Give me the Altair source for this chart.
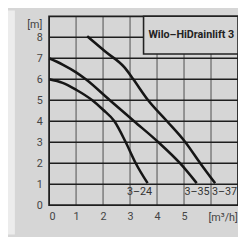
import altair as alt
import pandas as pd

# curve data (flow m3/h, head m)
q_324 = [0.0, 0.5, 1.0, 1.6, 2.0, 2.42, 2.84, 3.21, 3.65]
h_324 = [6.0, 5.83, 5.5, 5.0, 4.55, 4.0, 3.0, 2.0, 1.05]
q_335 = [0.0, 0.5, 1.0, 1.36, 2.25, 3.15, 4.05, 4.85, 5.47]
h_335 = [7.0, 6.7, 6.33, 6.0, 5.0, 4.0, 3.0, 2.0, 1.05]
q_337 = [1.41, 2.08, 2.81, 3.12, 3.67, 4.37, 5.05, 5.6, 6.15]
h_337 = [8.05, 7.32, 6.54, 6.0, 5.0, 4.0, 3.0, 2.0, 1.05]

labels = ["3–24", "3–35", "3–37"]
label_x = [3.35, 5.48, 6.5]
label_y = [0.64, 0.64, 0.64]

x_ticks = [0, 1, 2, 3, 4, 5]
y_ticks = [0, 1, 2, 3, 4, 5, 6, 7, 8]
grid_x = [1, 2, 3, 4, 5, 6]
grid_y = [1, 2, 3, 4, 5, 6, 7, 8]

title_text = "Wilo–HiDrainlift 3"
title_box = {"x": 3.5, "x2": 7.0, "y": 7.2, "y2": 9.0}
frame = {"x": 0.0, "x2": 7.0, "y": 0.0, "y2": 9.0}

FONT = "Roboto"
BG = "#d6d6d6"
LIGHT = "#ececec"

rows = []
for name, qs, hs in [("3–24", q_324, h_324), ("3–35", q_335, h_335), ("3–37", q_337, h_337)]:
    for i, (q, h) in enumerate(zip(qs, hs)):
        rows.append({"series": name, "q": q, "h": h, "i": i})
curves = pd.DataFrame(rows)

xs = alt.Scale(domain=[0, 7], nice=False, zero=False)
ys = alt.Scale(domain=[0, 9], nice=False, zero=False)

ax_x = alt.Axis(values=x_ticks, grid=False, ticks=False, domain=False,
                labelFont=FONT, labelFontSize=11, labelColor="#444",
                labelPadding=6, title=None, zindex=2)
ax_y = alt.Axis(values=y_ticks, grid=False, ticks=False, domain=False,
                labelFont=FONT, labelFontSize=11, labelColor="#444",
                labelPadding=7, title=None, zindex=2)

# lighter strip along the left edge of the page
strip = alt.Chart(pd.DataFrame({"a": [0]})).mark_rect(fill=LIGHT, clip=False).encode(
    x=alt.value(-43), x2=alt.value(-35), y=alt.value(-6), y2=alt.value(223)
)

vgrid = alt.Chart(pd.DataFrame({"g": grid_x})).mark_rule(
    color="#808080", strokeWidth=1.6
).encode(x=alt.X("g:Q", scale=xs, axis=ax_x))

hgrid = alt.Chart(pd.DataFrame({"g": grid_y})).mark_rule(
    color="#1e1e1e", strokeWidth=1.4
).encode(y=alt.Y("g:Q", scale=ys, axis=ax_y))

border = alt.Chart(pd.DataFrame([frame])).mark_rect(
    fill=None, stroke="#1e1e1e", strokeWidth=1.8, clip=False
).encode(x=alt.X("x:Q", scale=xs, axis=ax_x), x2="x2:Q",
         y=alt.Y("y:Q", scale=ys, axis=ax_y), y2="y2:Q")

box = alt.Chart(pd.DataFrame([title_box])).mark_rect(
    color=BG, fill=BG, opacity=1, stroke="#222", strokeWidth=1.6
).encode(x=alt.X("x:Q", scale=xs, axis=ax_x), x2="x2:Q",
         y=alt.Y("y:Q", scale=ys, axis=ax_y), y2="y2:Q")

title = alt.Chart(pd.DataFrame({"x": [5.27], "y": [8.1], "t": [title_text]})).mark_text(
    font=FONT, fontSize=11, fontWeight="bold", color="#222"
).encode(x=alt.X("x:Q", scale=xs, axis=ax_x), y=alt.Y("y:Q", scale=ys, axis=ax_y), text="t:N")

lines = alt.Chart(curves).mark_line(
    color="#161616", strokeWidth=2.6, interpolate="monotone"
).encode(
    x=alt.X("q:Q", scale=xs, axis=ax_x), y=alt.Y("h:Q", scale=ys, axis=ax_y),
    detail="series:N", order="i:Q"
)

lab = alt.Chart(pd.DataFrame({"x": label_x, "y": label_y, "t": labels})).mark_text(
    font=FONT, fontSize=11, color="#333"
).encode(x=alt.X("x:Q", scale=xs, axis=ax_x), y=alt.Y("y:Q", scale=ys, axis=ax_y), text="t:N")

unit_y = alt.Chart(pd.DataFrame({"x": [-0.25], "y": [8.6], "t": ["[m]"]})).mark_text(
    font=FONT, fontSize=11, color="#444", clip=False, align="right"
).encode(x=alt.X("x:Q", scale=xs, axis=ax_x), y=alt.Y("y:Q", scale=ys, axis=ax_y), text="t:N")

unit_x = alt.Chart(pd.DataFrame({"x": [6.45], "y": [-0.6], "t": ["[m³/h]"]})).mark_text(
    font=FONT, fontSize=11, color="#444", clip=False, align="center"
).encode(x=alt.X("x:Q", scale=xs, axis=ax_x), y=alt.Y("y:Q", scale=ys, axis=ax_y), text="t:N")

chart = alt.layer(strip, vgrid, hgrid, border, box, title, lines, lab, unit_y, unit_x).properties(
    width=193, height=193,
    padding={"left": 42, "top": 6, "right": 0, "bottom": 30},
    autosize=alt.AutoSizeParams(type="none"),
    background=BG,
).configure_view(stroke=None, fill=BG)

chart.save("out.html", embed_options={"renderer": "svg", "actions": False})
